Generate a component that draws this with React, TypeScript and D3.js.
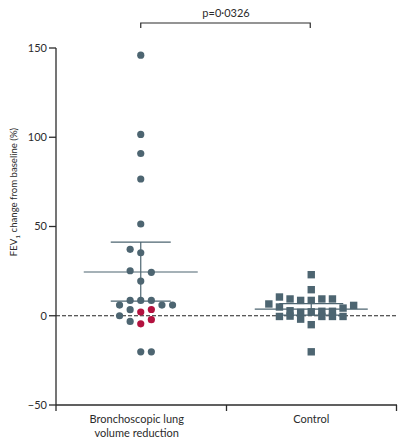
import React from "react";
import * as d3 from "d3";

const categories = ["Bronchoscopic lung\nvolume reduction", "Control"];
const yTicks = [-50, 0, 50, 100, 150];

// BLVR group: values, swarm slot, red highlight flag
const blvrValues = [146, 101.6, 90.9, 76.6, 51.4, 37.2, 35.3, 25.2, 24.3, 19.4, 8.6, 8.6, 8.6, 6.0, 6.0, 6.0, 3.4, 3.5, 2.1, 0, -3.2, -2.2, -4.5, -20.2, -20.2];
const blvrSlots = [0, 0, 0, 0, 0, -1, 0, -1, 1, 0, -1, 0, 1, -2, 2, 3, -1, 1, 0, -2, -1, 1, 0, 0, 1];
const blvrRed = [0, 0, 0, 0, 0, 0, 0, 0, 0, 0, 0, 0, 0, 0, 0, 0, 0, 1, 1, 0, 0, 1, 1, 0, 0];

// Control group
const controlValues = [23.0, 14.6, 8.6, 2.2, -5.0, -20.2, 6.6, 10.5, 4.9, -0.4, 9.4, 2.8, -0.2, 8.6, 1.9, -1.9, 9.4, 2.5, -0.4, 9.4, 2.5, -0.4, 4.3, -0.4, 5.8];
const controlSlots = [0, 0, 0, 0, 0, 0, -4, -3, -3, -3, -2, -2, -2, -1, -1, -1, 1, 1, 1, 2, 2, 2, 3, 3, 4];

// Summary lines: [mean, upper, lower]
const blvrSummary = [24.5, 41.3, 8.2];
const controlSummary = [3.7, 6.8, 0.4];

const pLabel = "p=0·0326";

const W = 398, H = 443;
const left = 56, right = 397, top = 48, bottom = 405;
const grey = "#4d6571";
const red = "#b3123f";
const ink = "#2b2b2b";
const font = "Lato, 'Open Sans', sans-serif";

export default function App() {
  const x = d3.scaleBand<number>().domain([0, 1]).range([left, right]);
  const y = d3.scaleLinear().domain([-50, 150]).range([bottom, top]);
  const cx = (i: number) => (x(i) as number) + x.bandwidth() / 2 - 0.5;
  const slotW = 10.6;
  const sq = 7.4;

  const summary = (i: number, s: number[], meanHalf: number, sdHalf: number) => (
    <g stroke={grey} strokeWidth={1.2} fill="none">
      <line x1={cx(i) - meanHalf} x2={cx(i) + meanHalf} y1={y(s[0])} y2={y(s[0])} />
      <line x1={cx(i) - sdHalf} x2={cx(i) + sdHalf} y1={y(s[1])} y2={y(s[1])} />
      <line x1={cx(i) - sdHalf} x2={cx(i) + sdHalf} y1={y(s[2])} y2={y(s[2])} />
      <line x1={cx(i)} x2={cx(i)} y1={y(s[1])} y2={y(s[2])} />
    </g>
  );

  return (
    <svg width={W} height={H} style={{ position: "absolute", left: 0, top: 0 }} fontFamily={font}>
      <rect width={W} height={H} fill="#fff" />
      {/* zero reference */}
      <line x1={left} x2={right} y1={y(0)} y2={y(0)} stroke="#222" strokeWidth={1} strokeDasharray="4,2" />
      {summary(0, blvrSummary, 57, 30)}
      {summary(1, controlSummary, 56.5, 32)}
      {blvrValues.map((v, k) => (
        <circle key={"b" + k} cx={cx(0) + blvrSlots[k] * slotW} cy={y(v)} r={3.6} fill={blvrRed[k] ? red : grey} />
      ))}
      {controlValues.map((v, k) => (
        <rect key={"c" + k} x={cx(1) + controlSlots[k] * slotW - sq / 2} y={y(v) - sq / 2} width={sq} height={sq} fill={grey} />
      ))}
      {/* y axis */}
      <line x1={left} x2={left} y1={top} y2={bottom} stroke={ink} strokeWidth={1.3} />
      {yTicks.map((t) => (
        <g key={t}>
          <line x1={left - 7} x2={left} y1={y(t)} y2={y(t)} stroke={ink} strokeWidth={1.3} />
          <text x={left - 9} y={y(t)} dy="0.35em" textAnchor="end" fontSize={11} fill={ink}>
            {t < 0 ? "\u2212" + Math.abs(t) : t}
          </text>
        </g>
      ))}
      {/* x axis */}
      <line x1={left} x2={right} y1={bottom} y2={bottom} stroke={ink} strokeWidth={1.3} />
      {[left, (left + right) / 2, right - 0.5].map((px, k) => (
        <line key={k} x1={px} x2={px} y1={bottom} y2={bottom + 6} stroke={ink} strokeWidth={1.3} />
      ))}
      {categories.map((c, i) => (
        <text key={c} x={cx(i) - (i === 0 ? 4 : 0)} y={423} textAnchor="middle" fontSize={11} fill={ink}>
          {c.split("\n").map((line, j) => (
            <tspan key={j} x={cx(i) - (i === 0 ? 4 : 0)} dy={j === 0 ? 0 : 14}>{line}</tspan>
          ))}
        </text>
      ))}
      {/* y label */}
      <text transform={`translate(17,192) rotate(-90)`} textAnchor="middle" fontSize={9.6} fill={ink}>
        FEV<tspan fontSize={6.5} dy={2.5}>1</tspan><tspan dy={-2.5}> change from baseline (%)</tspan>
      </text>
      {/* significance bracket */}
      <path d={`M${cx(0)},28V23H${cx(1) - 1}V28`} fill="none" stroke={ink} strokeWidth={1.2} />
      <text x={(cx(0) + cx(1)) / 2} y={17} textAnchor="middle" fontSize={11} fill={ink}>{pLabel}</text>
    </svg>
  );
}
